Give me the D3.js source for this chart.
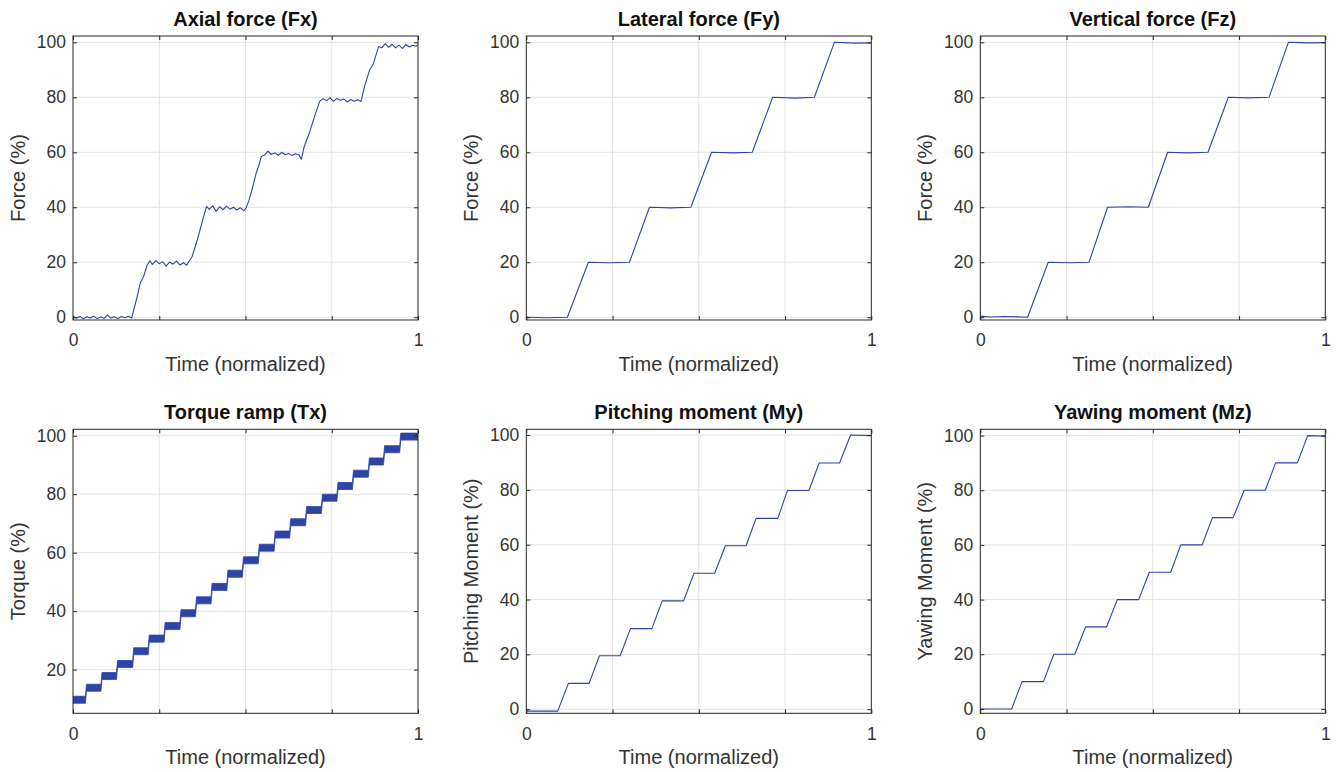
<!DOCTYPE html>
<html>
<head>
<meta charset="utf-8">
<script src="https://cdn.jsdelivr.net/npm/d3@7"></script>
<style>
  body { margin: 0; background: #fff; }
  text { font-family: "Liberation Sans", Arial, sans-serif; }
</style>
</head>
<body>
<div id="chart"></div>
<script>
// tick values
var timeTicks = [0, 0.25, 0.5, 0.75, 1];
var timeLabels = [0, 1];
var percentTicks = [0, 20, 40, 60, 80, 100];
var torqueTicks = [20, 40, 60, 80, 100];

var fxTime = [0, 0.01, 0.02, 0.03, 0.04, 0.05, 0.06, 0.07, 0.08, 0.09, 0.10, 0.11, 0.12, 0.13, 0.14, 0.15, 0.16, 0.17,
  0.185, 0.195, 0.205, 0.215, 0.223,
  0.23, 0.24, 0.25, 0.26, 0.27, 0.28, 0.29, 0.30, 0.31, 0.32, 0.33, 0.334,
  0.345, 0.36, 0.375, 0.387,
  0.395, 0.405, 0.415, 0.425, 0.435, 0.445, 0.455, 0.465, 0.475, 0.485, 0.495, 0.501,
  0.51, 0.52, 0.53, 0.538, 0.546,
  0.555, 0.565, 0.575, 0.585, 0.595, 0.605, 0.615, 0.625, 0.635, 0.645, 0.655, 0.662,
  0.67, 0.685, 0.70, 0.715,
  0.725, 0.735, 0.745, 0.755, 0.765, 0.775, 0.785, 0.795, 0.805, 0.815, 0.825, 0.835,
  0.845, 0.86, 0.87, 0.886,
  0.895, 0.905, 0.915, 0.925, 0.935, 0.945, 0.955, 0.965, 0.975, 0.985, 0.995, 1.0];
var fxValue = [0.5, -0.4, 0.3, -0.6, 0.2, -0.3, 0.4, -0.5, 0.1, -0.4, 0.8, -0.3, 0.2, -0.5, 0.3, -0.2, 0.4, -0.3,
  7, 12.5, 15, 19, 20.5,
  19.2, 20.6, 19.5, 20.2, 18.6, 20.1, 19.3, 20.4, 19.0, 19.8, 18.9, 20.0,
  22, 28, 35, 40.3,
  39.2, 40.5, 38.5, 40.2, 39.1, 40.4, 39.3, 40.0, 39.0, 39.8, 38.8, 39.5,
  42.5, 47, 52, 55, 58.5,
  59.0, 60.4, 59.2, 59.8, 58.9, 60.0, 59.1, 59.6, 58.8, 59.5, 59.0, 57.5,
  62, 67, 73, 78.5,
  79.5, 78.8, 79.9, 78.5, 79.6, 78.9, 79.4, 78.3, 79.2, 78.6, 79.1, 78.5,
  84, 90, 92, 98.5,
  98.0, 99.5, 98.2, 99.3, 98.0, 99.0, 97.8, 99.2, 98.3, 98.9, 98.6, 99.2];

// Lateral force (Fy)
var fyTime = [0, 0.06, 0.119, 0.18, 0.24, 0.299, 0.357, 0.42, 0.477, 0.537, 0.6, 0.655, 0.714, 0.78, 0.835, 0.893, 0.95, 1];
var fyValue = [0, -0.2, 0, 20, 19.8, 20, 40, 39.8, 40, 60, 59.8, 60, 80, 79.7, 80, 100, 99.7, 99.8];

// Vertical force (Fz)
var fzTime = [0, 0.03, 0.07, 0.137, 0.197, 0.26, 0.315, 0.369, 0.43, 0.487, 0.543, 0.6, 0.66, 0.719, 0.78, 0.837, 0.893, 0.95, 1];
var fzValue = [0.4, 0.1, 0.3, 0, 20, 19.8, 20, 40, 40.2, 40, 60, 59.8, 60, 80, 79.8, 80, 100, 99.8, 99.9];

// Torque ramp (Tx): switch times and step levels, noise band half width
var txSwitch = [0.036, 0.081, 0.126, 0.173, 0.218, 0.264, 0.31, 0.355, 0.40, 0.446, 0.491,
  0.537, 0.583, 0.628, 0.674, 0.72, 0.765, 0.81, 0.856, 0.90, 0.947];
var txLevel = [9.7, 13.8, 17.8, 21.9, 26.3, 30.6, 34.9, 39.3, 43.7, 48.3, 52.8,
  57.4, 61.7, 66.2, 70.4, 74.6, 78.8, 82.8, 87.0, 91.2, 95.4, 99.7];
var txRamp = 0.003;
var txNoise = 1.2;

// Pitching moment (My)
var myTime = [0, 0.091, 0.122, 0.182, 0.212, 0.272, 0.302, 0.364, 0.394, 0.456, 0.486,
  0.546, 0.577, 0.637, 0.666, 0.729, 0.757, 0.819, 0.849, 0.908, 0.94, 1];
var myValue = [-0.7, -0.7, 9.4, 9.4, 19.5, 19.5, 29.4, 29.4, 39.5, 39.5, 49.6,
  49.6, 59.6, 59.6, 69.6, 69.6, 79.8, 79.8, 89.8, 89.8, 100, 99.8];

// Yawing moment (Mz)
var mzTime = [0, 0.091, 0.121, 0.183, 0.213, 0.274, 0.305, 0.366, 0.397, 0.459, 0.49,
  0.552, 0.581, 0.643, 0.673, 0.733, 0.765, 0.826, 0.856, 0.919, 0.949, 1];
var mzValue = [0, 0, 10, 10, 20, 20, 30, 30, 40, 40, 50,
  50, 60, 60, 70, 70, 80, 80, 90, 90, 100, 99.8];

function zip(t, v) {
    return t.map(function (d, i) { return {t: d, v: v[i]}; });
}

// step points for the torque band
var txData = [];
txLevel.forEach(function (lv, i) {
    var start = i === 0 ? 0 : txSwitch[i - 1] + txRamp;
    var end = i === txLevel.length - 1 ? 1 : txSwitch[i];
    txData.push({t: start, v: lv});
    txData.push({t: end, v: lv});
});

var panels = [
    {title: "Axial force (Fx)", ylabel: "Force (%)", data: zip(fxTime, fxValue), ydom: [-1, 102.3], yticks: percentTicks},
    {title: "Lateral force (Fy)", ylabel: "Force (%)", data: zip(fyTime, fyValue), ydom: [-1, 102.3], yticks: percentTicks},
    {title: "Vertical force (Fz)", ylabel: "Force (%)", data: zip(fzTime, fzValue), ydom: [-1, 102.3], yticks: percentTicks},
    {title: "Torque ramp (Tx)", ylabel: "Torque (%)", data: txData, ydom: [5.06, 102.2], yticks: torqueTicks, band: true},
    {title: "Pitching moment (My)", ylabel: "Pitching Moment (%)", data: zip(myTime, myValue), ydom: [-1.5, 102.1], yticks: percentTicks},
    {title: "Yawing moment (Mz)", ylabel: "Yawing Moment (%)", data: zip(mzTime, mzValue), ydom: [-1.6, 102.3], yticks: percentTicks}
];

var W = 1336, H = 772;
var lefts = [73, 526.3, 980.3], tops = [36, 429.3];
var pw = 345, ph = 284;
var lineColor = "#2d44a6", axisColor = "#262626", gridColor = "#e2e2e2";

var svg = d3.select("#chart").append("svg")
    .attr("width", W)
    .attr("height", H);

panels.forEach(function (p, k) {
    var left = lefts[k % 3], top = tops[Math.floor(k / 3)];
    var g = svg.append("g").attr("transform", "translate(" + left + "," + top + ")");

    var x = d3.scaleLinear().domain([0, 1]).range([0, pw]);
    var y = d3.scaleLinear().domain(p.ydom).range([ph, 0]);

    // grid
    g.append("g").selectAll("line.gx")
        .data(timeTicks.slice(1, -1))
        .enter().append("line")
        .attr("x1", function (d) { return x(d); })
        .attr("x2", function (d) { return x(d); })
        .attr("y1", 0).attr("y2", ph)
        .attr("stroke", gridColor).attr("stroke-width", 1);
    g.append("g").selectAll("line.gy")
        .data(p.yticks)
        .enter().append("line")
        .attr("x1", 0).attr("x2", pw)
        .attr("y1", function (d) { return y(d); })
        .attr("y2", function (d) { return y(d); })
        .attr("stroke", gridColor).attr("stroke-width", 1);

    // data
    var clipId = "clip" + k;
    g.append("clipPath").attr("id", clipId)
        .append("rect").attr("width", pw).attr("height", ph);

    if (p.band) {
        var area = d3.area()
            .x(function (d) { return x(d.t); })
            .y0(function (d) { return y(d.v - txNoise); })
            .y1(function (d) { return y(d.v + txNoise); });
        g.append("path")
            .datum(p.data)
            .attr("clip-path", "url(#" + clipId + ")")
            .attr("d", area)
            .attr("fill", lineColor)
            .attr("stroke", lineColor)
            .attr("stroke-width", 0.8);
    } else {
        var line = d3.line()
            .x(function (d) { return x(d.t); })
            .y(function (d) { return y(d.v); });
        g.append("path")
            .datum(p.data)
            .attr("clip-path", "url(#" + clipId + ")")
            .attr("d", line)
            .attr("fill", "none")
            .attr("stroke", lineColor)
            .attr("stroke-width", 1.1)
            .attr("stroke-linejoin", "round");
    }

    // axes, ticks pointing inward
    var xb = g.append("g")
        .attr("transform", "translate(0," + ph + ")")
        .call(d3.axisBottom(x).tickValues(timeTicks).tickSizeInner(-4).tickSizeOuter(0).tickPadding(14)
            .tickFormat(function (d) { return timeLabels.indexOf(d) >= 0 ? d3.format("d")(d) : ""; }));
    var xt = g.append("g")
        .call(d3.axisTop(x).tickValues(timeTicks).tickSizeInner(-4).tickSizeOuter(0).tickFormat(""));
    var yl = g.append("g")
        .call(d3.axisLeft(y).tickValues(p.yticks).tickSizeInner(-4).tickSizeOuter(0).tickPadding(7));
    var yr = g.append("g")
        .attr("transform", "translate(" + pw + ",0)")
        .call(d3.axisRight(y).tickValues(p.yticks).tickSizeInner(-4).tickSizeOuter(0).tickFormat(""));

    [xb, xt, yl, yr].forEach(function (a) {
        a.select(".domain").remove();
        a.selectAll(".tick line").attr("stroke", axisColor).attr("stroke-width", 1);
        a.selectAll(".tick text")
            .attr("fill", "#333")
            .style("font-size", "17.5px")
            .style("font-family", "'Liberation Sans', Arial, sans-serif");
    });

    // box
    g.append("rect")
        .attr("width", pw).attr("height", ph)
        .attr("fill", "none")
        .attr("stroke", axisColor)
        .attr("stroke-width", 1);

    // title and labels
    g.append("text")
        .attr("x", pw / 2).attr("y", -10)
        .attr("text-anchor", "middle")
        .style("font-size", "20px")
        .style("font-weight", "bold")
        .attr("fill", "#111")
        .text(p.title);

    g.append("text")
        .attr("x", pw / 2).attr("y", ph + 51)
        .attr("text-anchor", "middle")
        .style("font-size", "20px")
        .attr("fill", "#333")
        .text("Time (normalized)");

    g.append("text")
        .attr("transform", "translate(-48," + (ph / 2) + ") rotate(-90)")
        .attr("text-anchor", "middle")
        .style("font-size", "20px")
        .attr("fill", "#333")
        .text(p.ylabel);
});
</script>
</body>
</html>
